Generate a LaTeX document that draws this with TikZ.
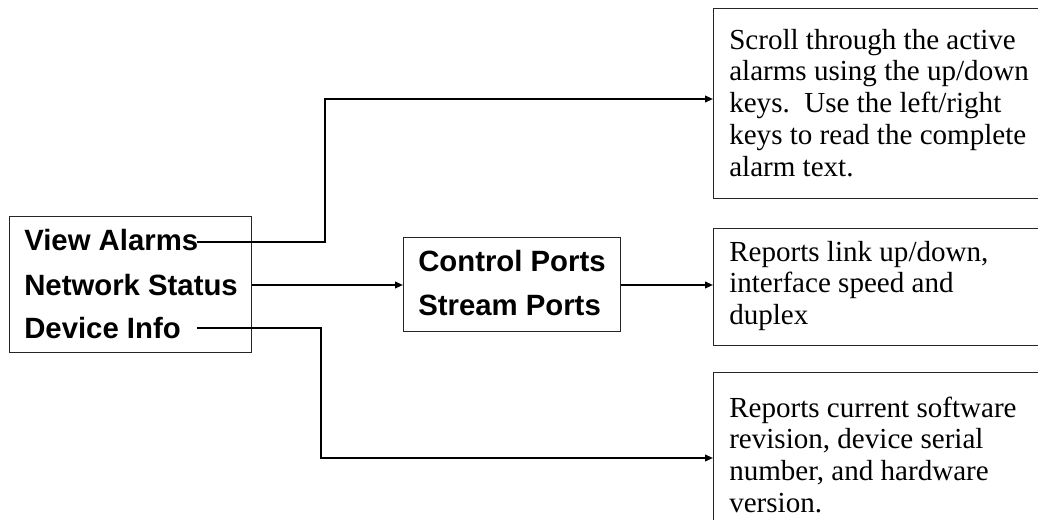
\documentclass[tikz,border=0pt]{standalone}
\usepackage{fontspec}
\setmainfont{Liberation Serif}
\setsansfont{Liberation Sans}
\usetikzlibrary{arrows.meta}
\begin{document}
\begin{tikzpicture}[x=0.75pt,y=-0.75pt,
  frame/.style={draw=black!85,line width=0.8pt,rectangle,anchor=north west,inner sep=0pt},
  menutext/.style={font=\sffamily\bfseries\fontsize{22}{33}\selectfont,anchor=base west,inner sep=0pt},
  desctext/.style={font=\fontsize{21.8}{23.8}\selectfont,anchor=north west,inner sep=0pt,align=left},
  conn/.style={line width=1.3pt,-{Triangle[length=6pt,width=5pt]}},
  plain/.style={line width=1.3pt}]
\clip (0,0) rectangle (1038,520);
% boxes
\node[frame,minimum width=242*0.75pt,minimum height=136*0.75pt] (menu) at (9,216) {};
\node[frame,minimum width=217*0.75pt,minimum height=94*0.75pt] (ports) at (403,237) {};
\node[frame,minimum width=340*0.75pt,minimum height=190*0.75pt] (alarmbox) at (713,8) {};
\node[frame,minimum width=340*0.75pt,minimum height=117*0.75pt] (netbox) at (713,228) {};
\node[frame,minimum width=340*0.75pt,minimum height=180*0.75pt] (devbox) at (713,372) {};
% menu text
\node[menutext] (va) at (24,251) {View Alarms};
\node[menutext] (ns) at (24,296) {Network Status};
\node[menutext] (di) at (24,338) {Device Info};
\node[menutext] (cp) at (418,272) {Control Ports};
\node[menutext] (sp) at (418,315) {Stream Ports};
% descriptions
\node[desctext] (t1) at (729,22.3) {\rule{0pt}{20pt}Scroll through the active\\alarms using the up/down\\keys.\ \ Use the left/right\\keys to read the complete\\alarm text.};
\node[desctext] (t2) at (729,234.3) {\rule{0pt}{20pt}Reports link up/down,\\interface speed and\\duplex};
\node[desctext] (t3) at (729,390.3) {\rule{0pt}{20pt}Reports current software\\revision, device serial\\number, and hardware\\version.};
% connectors
\coordinate (vaend) at (197,242);
\coordinate (diend) at (197,328);
\draw[plain] (va.east |- vaend) -- (vaend);
\draw[conn] (vaend) -- (325,242) -- (325,99) -- (alarmbox.west |- 0,99);
\draw[conn] (menu.east |- 0,285) -- (ports.west |- 0,285);
\draw[conn] (ports.east |- 0,285) -- (netbox.west |- 0,285);
\draw[conn] (diend) -- (321,328) -- (321,458) -- (devbox.west |- 0,458);
\end{tikzpicture}
\end{document}
